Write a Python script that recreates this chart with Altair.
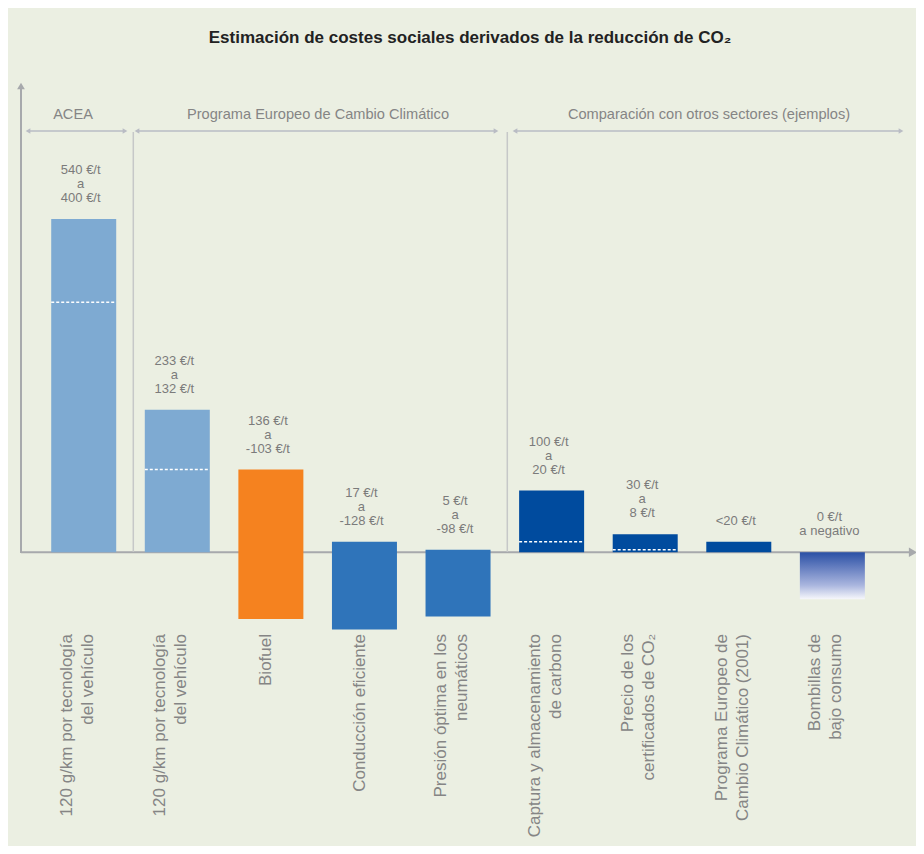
import altair as alt
import pandas as pd

# ---------------- data ----------------
titulo = "Estimación de costes sociales derivados de la reducción de CO₂"
secciones = ["ACEA", "Programa Europeo de Cambio Climático",
             "Comparación con otros sectores (ejemplos)"]
categorias = [
    "120 g/km por tecnología\ndel vehículo",
    "120 g/km por tecnología\ndel vehículo",
    "Biofuel",
    "Conducción eficiente",
    "Presión óptima en los\nneumáticos",
    "Captura y almacenamiento\nde carbono",
    "Precio de los\ncertificados de CO₂",
    "Programa Europeo de\nCambio Climático (2001)",
    "Bombillas de\nbajo consumo",
]
tipos = ["Tecnología", "Tecnología", "Biofuel", "Transporte", "Transporte",
         "Otros sectores", "Otros sectores", "Otros sectores", "Bombillas"]
valor_sup = [540, 231, 134, 17, 4, 100, 29, 17, 0]
valor_inf = [0, 0, -108, -125, -104, 0, 0, 0, -76]
valor_guia = [405, 134, None, None, None, 17, 4, None, None]
etiquetas = [
    "540 €/t\na\n400 €/t",
    "233 €/t\na\n132 €/t",
    "136 €/t\na\n-103 €/t",
    "17 €/t\na\n-128 €/t",
    "5 €/t\na\n-98 €/t",
    "100 €/t\na\n20 €/t",
    "30 €/t\na\n8 €/t",
    "<20 €/t",
    "0 €/t\na negativo",
]

df = pd.DataFrame({
    "idx": list(range(len(categorias))),
    "cat": categorias,
    "tipo": tipos,
    "sup": valor_sup,
    "inf": valor_inf,
    "guia": valor_guia,
    "etiqueta": etiquetas,
})
df["n_et"] = df["etiqueta"].str.count("\n") + 1
df["n_cat"] = df["cat"].str.count("\n") + 1

# ---------------- styles / layout ----------------
FONT = "Liberation Sans"
BG = "#ebefe2"
AXIS_C = "#a7a9ac"
SEC_C = "#b9bcc4"
SEP_C = "#c6c8c8"
TXT_C = "#858585"

xs = alt.Scale(domain=[-0.7556, 8.8402], nice=False, zero=False)
ys = alt.Scale(domain=[-476, 882], nice=False, zero=False)
X = alt.X("idx:Q", scale=xs, axis=None)

color_scale = alt.Scale(
    domain=["Tecnología", "Biofuel", "Transporte", "Otros sectores"],
    range=["#7eaad2", "#f5821f", "#2f74ba", "#004b9e"],
)

one = pd.DataFrame({"a": [0]})

bars = alt.Chart(df[df.tipo != "Bombillas"]).mark_bar(width=65).encode(
    x=X,
    y=alt.Y("sup:Q", scale=ys, axis=None),
    y2="inf:Q",
    color=alt.Color("tipo:N", scale=color_scale, legend=None),
)

grad_bar = alt.Chart(df[df.tipo == "Bombillas"]).mark_bar(
    width=65,
    color=alt.Gradient(
        gradient="linear",
        stops=[alt.GradientStop(color="#2a50a5", offset=0),
               alt.GradientStop(color="#6a82c2", offset=0.35),
               alt.GradientStop(color="#a9b5de", offset=0.7),
               alt.GradientStop(color="#f6f7fb", offset=1)],
        x1=0, x2=0, y1=0, y2=1,
    ),
).encode(
    x=X,
    y=alt.Y("sup:Q", scale=ys, axis=None),
    y2="inf:Q",
)

dashes = alt.Chart(df.dropna(subset=["guia"])).mark_rule(
    color="white", strokeDash=[3, 2], strokeWidth=1.5, xOffset=-32.5, x2Offset=32.5
).encode(
    x=X, x2="idx:Q",
    y=alt.Y("guia:Q", scale=ys, axis=None),
)

VAL_LH = 14
val_layers = []
for n in sorted(df["n_et"].unique()):
    val_layers.append(
        alt.Chart(df[df.n_et == n]).mark_text(
            font=FONT, fontSize=13, lineHeight=VAL_LH, color="#7b7b7b",
            baseline="bottom", align="center",
            dy=-14 - (int(n) - 1) * VAL_LH, dx=-3, lineBreak="\n",
        ).encode(
            x=X,
            y=alt.Y("sup:Q", scale=ys, axis=None),
            text="etiqueta:N",
        )
    )

CAT_LH = 21
cat_layers = []
for n in sorted(df["n_cat"].unique()):
    cat_layers.append(
        alt.Chart(df[df.n_cat == n]).mark_text(
            font=FONT, fontSize=17, lineHeight=CAT_LH, color=TXT_C, angle=270,
            align="right", baseline="middle",
            dy=-4.5 - (int(n) - 1) * CAT_LH / 2 - (int(n) - 1) * 2, lineBreak="\n",
        ).encode(
            x=X,
            y=alt.value(626),
            text="cat:N",
        )
    )

# x axis line + arrow
x_axis = alt.Chart(one).mark_rule(color=AXIS_C, strokeWidth=2).encode(
    x=alt.value(13), x2=alt.value(902),
    y=alt.Y(datum=0, scale=ys, axis=None),
)
x_arrow = alt.Chart(one).mark_point(
    shape="triangle-right", filled=True, size=90, color=AXIS_C, opacity=1
).encode(
    x=alt.value(905), y=alt.Y(datum=0, scale=ys, axis=None),
)

# y axis line + arrow
y_axis = alt.Chart(one).mark_rule(color=AXIS_C, strokeWidth=2).encode(
    x=alt.value(13), y=alt.value(80), y2=alt.value(545),
)
y_arrow = alt.Chart(one).mark_point(
    shape="triangle-up", filled=True, size=60, color=AXIS_C, opacity=1
).encode(x=alt.value(13), y=alt.value(78))

layers = [x_axis, y_axis, y_arrow, x_arrow]

# separators
for sx in [125.3, 499.3]:
    layers.append(
        alt.Chart(one).mark_rule(color=SEP_C, strokeWidth=1.5).encode(
            x=alt.value(sx), y=alt.value(124), y2=alt.value(544)
        )
    )

# section arrows and labels
sec_spans = [(17, 120), (126, 491), (504, 896)]
sec_label_x = [65, 310, 701]
for (a, b), lx, name in zip(sec_spans, sec_label_x, secciones):
    layers.append(
        alt.Chart(one).mark_rule(color=SEC_C, strokeWidth=1.5).encode(
            x=alt.value(a + 3), x2=alt.value(b - 3), y=alt.value(123)
        )
    )
    layers.append(
        alt.Chart(one).mark_point(shape="triangle-left", filled=True, size=30,
                                  color=SEC_C, opacity=1).encode(
            x=alt.value(a + 3), y=alt.value(123))
    )
    layers.append(
        alt.Chart(one).mark_point(shape="triangle-right", filled=True, size=30,
                                  color=SEC_C, opacity=1).encode(
            x=alt.value(b - 3), y=alt.value(123))
    )
    layers.append(
        alt.Chart(pd.DataFrame({"t": [name]})).mark_text(
            font=FONT, fontSize=14.6, color=TXT_C, align="center", baseline="middle"
        ).encode(x=alt.value(lx), y=alt.value(107), text="t:N")
    )

title = alt.Chart(pd.DataFrame({"t": [titulo]})).mark_text(
    font=FONT, fontSize=17, fontWeight="bold", color="#222222",
    align="center", baseline="middle",
).encode(x=alt.value(462), y=alt.value(30), text="t:N")

chart = alt.layer(
    *layers, bars, grad_bar, dashes, *val_layers, *cat_layers, title
).properties(
    width=908, height=838, padding=0,
    autosize=alt.AutoSizeParams(type="none"),
).configure(background=BG).configure_view(strokeWidth=0)

chart.save("out.html", embed_options={"renderer": "svg", "actions": False})
